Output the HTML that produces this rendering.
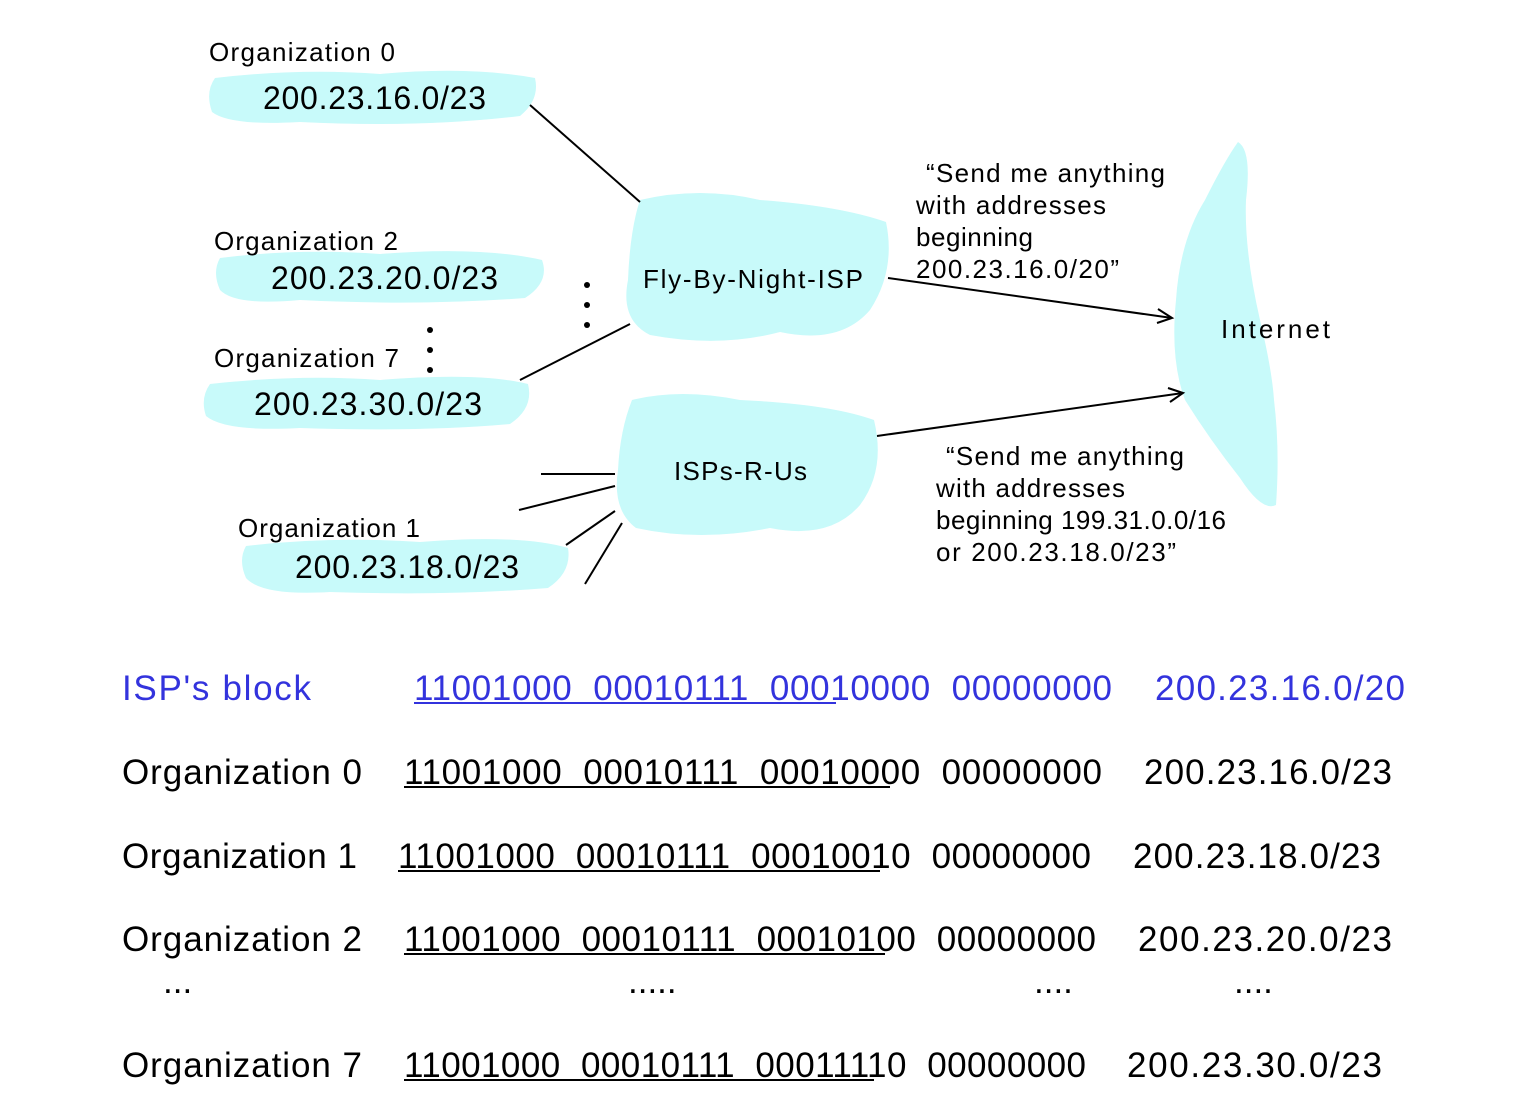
<!DOCTYPE html>
<html><head><meta charset="utf-8"><style>
html,body{margin:0;padding:0;background:#fff;}
svg{display:block}
text{font-family:"Liberation Sans",sans-serif;fill:#000;white-space:pre}
</style></head><body>
<svg width="1537" height="1109" viewBox="0 0 1537 1109" xml:space="preserve">
<g fill="#c8fafa" stroke="none">
<path d="M215 78 Q300 68 380 74 Q470 66 535 78 Q540 100 520 116 Q420 128 300 122 Q230 126 212 112 Q205 92 215 78Z"/>
<path d="M220 258 Q300 248 380 254 Q480 246 542 260 Q550 282 525 298 Q420 306 300 300 Q235 306 220 290 Q212 272 220 258Z"/>
<path d="M210 384 Q300 374 380 380 Q480 372 528 384 Q534 408 510 424 Q420 432 300 428 Q225 432 206 416 Q200 398 210 384Z"/>
<path d="M246 546 Q330 536 420 542 Q520 534 568 548 Q572 572 548 588 Q450 596 330 592 Q262 596 246 578 Q238 560 246 546Z"/>
<path d="M640 200 Q700 186 760 200 Q840 206 886 222 Q896 270 870 310 Q840 345 780 332 Q720 348 650 335 Q620 320 628 280 Q630 230 640 200Z"/>
<path d="M632 400 Q680 388 740 400 Q830 404 874 420 Q886 470 860 505 Q830 540 770 528 Q700 542 636 528 Q612 510 618 470 Q620 430 632 400Z"/>
<path d="M1238 142 Q1252 150 1246 200 Q1244 250 1260 320 Q1272 370 1274 400 Q1280 450 1276 505 Q1262 512 1240 478 Q1210 440 1185 400 Q1170 360 1176 300 Q1180 240 1205 200 Q1225 160 1238 142Z"/>
</g>
<g stroke="#000" stroke-width="2" fill="none">
<line x1="530" y1="105" x2="640" y2="202"/>
<line x1="520" y1="380" x2="630" y2="324"/>
<line x1="541" y1="474" x2="615" y2="474"/>
<line x1="519" y1="510" x2="615" y2="486"/>
<line x1="566" y1="545" x2="615" y2="511"/>
<line x1="585" y1="584" x2="622" y2="523"/>
<line x1="888" y1="278" x2="1172" y2="318"/>
<polyline points="1158,309 1172,318 1157,323"/>
<line x1="877" y1="436" x2="1183" y2="393"/>
<polyline points="1168,388 1183,393 1170,402"/>
</g>
<g fill="#000">
<circle cx="587" cy="285" r="3"/><circle cx="587" cy="305" r="3"/><circle cx="587" cy="325" r="3"/>
<circle cx="430" cy="330" r="3"/><circle cx="430" cy="350" r="3"/><circle cx="430" cy="370" r="3"/>
</g>
<g font-size="26" lengthAdjust="spacingAndGlyphs">
<text x="209" y="61" textLength="186">Organization 0</text>
<text x="214" y="250" textLength="184">Organization 2</text>
<text x="214" y="367" textLength="185">Organization 7</text>
<text x="238" y="537" textLength="182">Organization 1</text>
<text x="643" y="288" textLength="220">Fly-By-Night-ISP</text>
<text x="674" y="480" textLength="133">ISPs-R-Us</text>
<text x="1221" y="338" textLength="109">Internet</text>
<text x="926" y="182" textLength="239">“Send me anything</text>
<text x="916" y="214" textLength="190">with addresses</text>
<text x="916" y="246" textLength="117">beginning</text>
<text x="916" y="278" textLength="203">200.23.16.0/20”</text>
<text x="946" y="465" textLength="238">“Send me anything</text>
<text x="936" y="497" textLength="189">with addresses</text>
<text x="936" y="529" textLength="290">beginning 199.31.0.0/16</text>
<text x="936" y="561" textLength="240">or 200.23.18.0/23”</text>
</g>
<g font-size="32" lengthAdjust="spacingAndGlyphs">
<text x="263" y="109" textLength="223">200.23.16.0/23</text>
<text x="271" y="289" textLength="227">200.23.20.0/23</text>
<text x="254" y="415" textLength="228">200.23.30.0/23</text>
<text x="295" y="578" textLength="224">200.23.18.0/23</text>
</g>
<g font-size="35" lengthAdjust="spacingAndGlyphs">
<text x="122" y="700" style="fill:#3333dd" textLength="189">ISP's block</text>
<text x="414" y="700" style="fill:#3333dd" textLength="698">11001000  00010111  00010000  00000000</text>
<text x="1155" y="700" style="fill:#3333dd" textLength="250">200.23.16.0/20</text>
<text x="122" y="784" textLength="240">Organization 0</text>
<text x="404" y="784" textLength="698">11001000  00010111  00010000  00000000</text>
<text x="1144" y="784" textLength="248">200.23.16.0/23</text>
<text x="122" y="868" textLength="235">Organization 1</text>
<text x="398" y="868" textLength="693">11001000  00010111  00010010  00000000</text>
<text x="1133" y="868" textLength="248">200.23.18.0/23</text>
<text x="122" y="951" textLength="240">Organization 2</text>
<text x="404" y="951" textLength="692">11001000  00010111  00010100  00000000</text>
<text x="1138" y="951" textLength="254">200.23.20.0/23</text>
<text x="163" y="993">...</text>
<text x="628" y="993">.....</text>
<text x="1034" y="993">....</text>
<text x="1234" y="993">....</text>
<text x="122" y="1077" textLength="240">Organization 7</text>
<text x="404" y="1077" textLength="682">11001000  00010111  00011110  00000000</text>
<text x="1127" y="1077" textLength="255">200.23.30.0/23</text>
</g>
<g stroke-width="2">
<line x1="414" y1="703" x2="836" y2="703" stroke="#3333dd"/>
<line x1="404" y1="787" x2="890" y2="787" stroke="#000"/>
<line x1="398" y1="871" x2="880" y2="871" stroke="#000"/>
<line x1="404" y1="954" x2="885" y2="954" stroke="#000"/>
<line x1="404" y1="1080" x2="874" y2="1080" stroke="#000"/>
</g>
</svg>
</body></html>
